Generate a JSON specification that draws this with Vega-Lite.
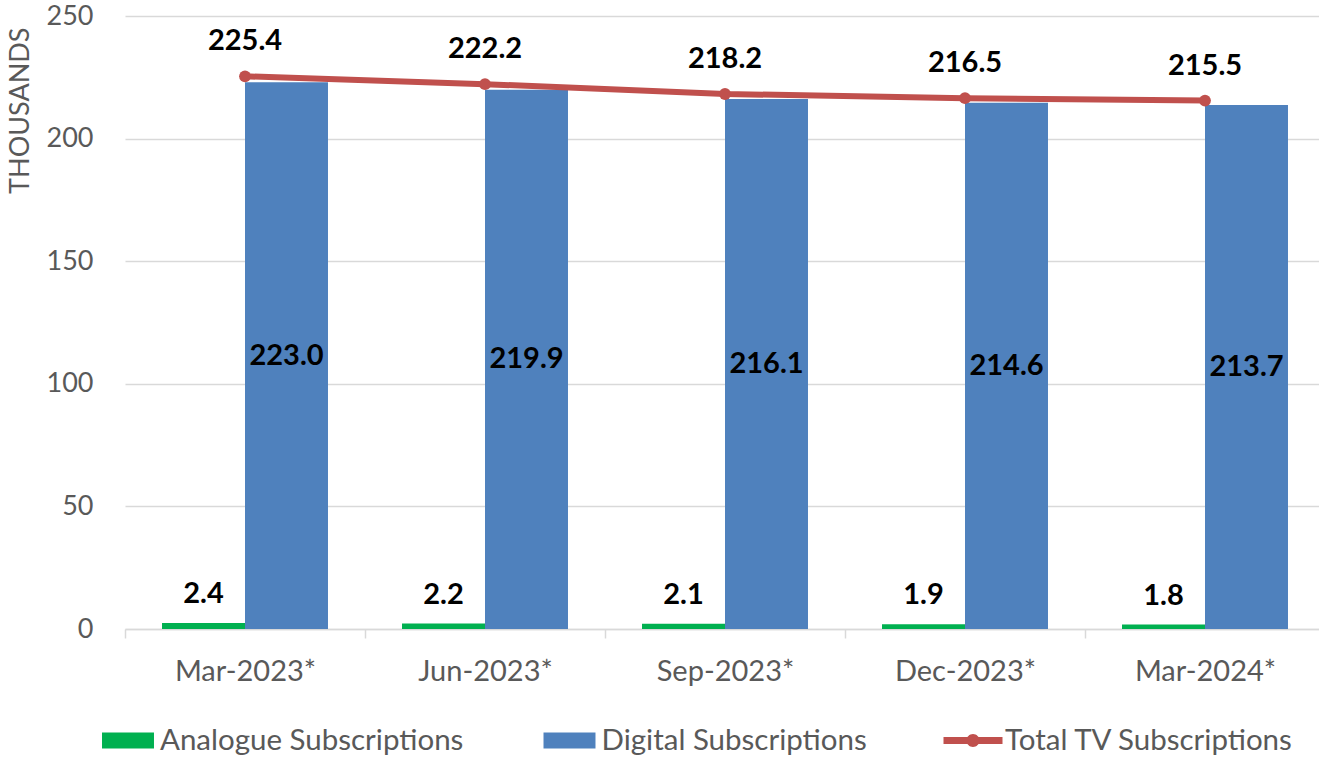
{
  "$schema": "https://vega.github.io/schema/vega-lite/v6.json",
  "width": 1200,
  "height": 613,
  "autosize": {"type": "none"},
  "padding": {"left": 125, "top": 16, "right": 0, "bottom": 128},
  "background": "white",
  "config": {"view": {"stroke": null}, "font": "Lato"},
  "data": {
    "values": [
      {"period": "Mar-2023*", "series": "Analogue Subscriptions", "value": 2.4},
      {"period": "Jun-2023*", "series": "Analogue Subscriptions", "value": 2.2},
      {"period": "Sep-2023*", "series": "Analogue Subscriptions", "value": 2.1},
      {"period": "Dec-2023*", "series": "Analogue Subscriptions", "value": 1.9},
      {"period": "Mar-2024*", "series": "Analogue Subscriptions", "value": 1.8},
      {"period": "Mar-2023*", "series": "Digital Subscriptions", "value": 223.0},
      {"period": "Jun-2023*", "series": "Digital Subscriptions", "value": 219.9},
      {"period": "Sep-2023*", "series": "Digital Subscriptions", "value": 216.1},
      {"period": "Dec-2023*", "series": "Digital Subscriptions", "value": 214.6},
      {"period": "Mar-2024*", "series": "Digital Subscriptions", "value": 213.7},
      {"period": "Mar-2023*", "series": "Total TV Subscriptions", "value": 225.4},
      {"period": "Jun-2023*", "series": "Total TV Subscriptions", "value": 222.2},
      {"period": "Sep-2023*", "series": "Total TV Subscriptions", "value": 218.2},
      {"period": "Dec-2023*", "series": "Total TV Subscriptions", "value": 216.5},
      {"period": "Mar-2024*", "series": "Total TV Subscriptions", "value": 215.5}
    ]
  },
  "encoding": {
    "x": {
      "field": "period",
      "type": "nominal",
      "sort": null,
      "scale": {"paddingInner": 0, "paddingOuter": 0},
      "axis": {
        "title": null,
        "labelAngle": 0,
        "labelFontSize": 29,
        "labelColor": "#595959",
        "labelPadding": 19,
        "tickBand": "extent",
        "ticks": true,
        "tickSize": 9,
        "tickColor": "#D9D9D9",
        "tickWidth": 1.5,
        "domainColor": "#D9D9D9",
        "domainWidth": 1.5,
        "grid": false
      }
    }
  },
  "layer": [
    {
      "transform": [{"filter": "datum.series !== 'Total TV Subscriptions'"}],
      "mark": {"type": "bar"},
      "encoding": {
        "xOffset": {
          "field": "series",
          "type": "nominal",
          "sort": ["Analogue Subscriptions", "Digital Subscriptions"],
          "scale": {"paddingInner": 0, "paddingOuter": 0.446}
        },
        "y": {
          "field": "value",
          "type": "quantitative",
          "scale": {"domain": [0, 250], "nice": false, "zero": true},
          "axis": {
            "values": [0, 50, 100, 150, 200, 250],
            "grid": true,
            "gridColor": "#D9D9D9",
            "gridWidth": 1.5,
            "domain": false,
            "ticks": false,
            "labelFontSize": 27,
            "labelColor": "#595959",
            "labelPadding": 32,
            "title": "THOUSANDS",
            "titleFontSize": 27,
            "titleFontWeight": "normal",
            "titleColor": "#595959",
            "titleAnchor": "end",
            "titleY": 11,
            "titlePadding": 12
          }
        },
        "color": {
          "field": "series",
          "type": "nominal",
          "scale": {
            "domain": ["Analogue Subscriptions", "Digital Subscriptions", "Total TV Subscriptions"],
            "range": ["#00B050", "#4F81BD", "#C0504D"]
          },
          "legend": {
            "orient": "none",
            "legendX": -26.5,
            "legendY": 695,
            "direction": "horizontal",
            "columns": 3,
            "title": null,
            "padding": 0,
            "symbolSize": 3481,
            "symbolStrokeWidth": 0,
            "labelFontSize": 29.5,
            "labelLimit": 0,
            "labelColor": "#595959",
            "labelOffset": 2.5,
            "columnPadding": 76.5,
            "encode": {
              "symbols": {
                "update": {
                  "shape": {"signal": "datum.label === 'Total TV Subscriptions' ? 'M-1,-0.12L1,-0.12L1,0.12L-1,0.12Z M-0.22,0A0.22,0.22,0,1,1,0.22,0A0.22,0.22,0,1,1,-0.22,0Z' : 'M-0.881,-0.271L0.881,-0.271L0.881,0.271L-0.881,0.271Z'"},
                  "fill": {"scale": "color", "field": "value"},
                  "stroke": {"value": "transparent"},
                  "strokeWidth": {"value": 0},
                  "opacity": {"value": 1}
                }
              }
            }
          }
        }
      }
    },
    {
      "transform": [{"filter": "datum.series === 'Analogue Subscriptions'"}],
      "mark": {"type": "text", "font": "Lato", "fontSize": 29, "fontWeight": "bold", "color": "black", "baseline": "alphabetic", "dy": -20},
      "encoding": {
        "xOffset": {
          "field": "series",
          "type": "nominal",
          "sort": ["Analogue Subscriptions", "Digital Subscriptions"]
        },
        "y": {"field": "value", "type": "quantitative", "scale": {"domain": [0, 250], "nice": false}, "axis": null},
        "text": {"field": "value", "type": "quantitative", "format": ".1f"}
      }
    },
    {
      "transform": [{"filter": "datum.series === 'Digital Subscriptions'"}],
      "mark": {"type": "text", "font": "Lato", "fontSize": 29, "fontWeight": "bold", "color": "black", "baseline": "middle"},
      "encoding": {
        "xOffset": {
          "field": "series",
          "type": "nominal",
          "sort": ["Analogue Subscriptions", "Digital Subscriptions"]
        },
        "y": {"field": "value", "type": "quantitative", "scale": {"domain": [0, 500], "nice": false}, "axis": null},
        "text": {"field": "value", "type": "quantitative", "format": ".1f"}
      }
    },
    {
      "transform": [{"filter": "datum.series === 'Total TV Subscriptions'"}],
      "mark": {"type": "line", "strokeWidth": 6, "point": {"filled": true, "size": 140}},
      "encoding": {
        "y": {"field": "value", "type": "quantitative", "scale": {"domain": [0, 250], "nice": false}, "axis": null},
        "color": {"field": "series", "type": "nominal"}
      }
    },
    {
      "transform": [{"filter": "datum.series === 'Total TV Subscriptions'"}],
      "mark": {"type": "text", "font": "Lato", "fontSize": 29, "fontWeight": "bold", "color": "black", "baseline": "alphabetic", "dy": -26},
      "encoding": {
        "y": {"field": "value", "type": "quantitative", "scale": {"domain": [0, 250], "nice": false}, "axis": null},
        "text": {"field": "value", "type": "quantitative", "format": ".1f"}
      }
    }
  ],
  "resolve": {"scale": {"y": "independent"}}
}
